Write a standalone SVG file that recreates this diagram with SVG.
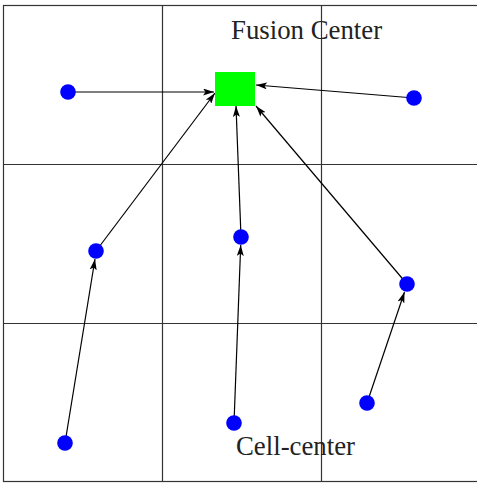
<svg xmlns="http://www.w3.org/2000/svg" width="477" height="483" viewBox="0 0 477 483">
<style>
.grid{stroke:#333;stroke-width:1.2;fill:none}
.node{fill:#0000ff}
.edge{stroke:#000;stroke-width:1.2;fill:none;marker-end:url(#ah)}
.lbl{font-family:"Liberation Serif","Times New Roman",serif;font-size:26.8px;fill:#222}
</style>
<defs>
<marker id="ah" viewBox="0 0 11 7" refX="11" refY="3.5" markerWidth="11" markerHeight="7" markerUnits="userSpaceOnUse" orient="auto">
<path d="M0,0 L11,3.5 L0,7 L2.5,3.5 Z" fill="#000"/>
</marker>
</defs>
<rect x="3" y="5" width="477" height="477" fill="#fff"/>
<g id="grid">
<rect class="grid" x="3.5" y="5.5" width="477" height="476"/>
<line class="grid" x1="162.5" y1="5" x2="162.5" y2="482"/>
<line class="grid" x1="321.5" y1="5" x2="321.5" y2="482"/>
<line class="grid" x1="3" y1="164.5" x2="480" y2="164.5"/>
<line class="grid" x1="3" y1="323.5" x2="480" y2="323.5"/>
</g>
<g id="connectors">
<line class="edge" x1="68" y1="92" x2="214" y2="92"/>
<line class="edge" x1="414" y1="98" x2="256" y2="85"/>
<line class="edge" x1="96" y1="251" x2="215" y2="93"/>
<line class="edge" x1="241" y1="237" x2="236" y2="106"/>
<line class="edge" x1="407" y1="284" x2="256" y2="106"/>
<line class="edge" x1="65" y1="443" x2="95" y2="259"/>
<line class="edge" x1="234" y1="423" x2="240.7" y2="245"/>
<line class="edge" x1="367" y1="403" x2="404.5" y2="292"/>
</g>
<g id="fusion-center">
<rect x="215" y="72" width="40" height="34" fill="#00ff00"/>
<text class="lbl" x="231" y="39">Fusion Center</text>
</g>
<g id="n1"><circle class="node" cx="68" cy="92" r="7.8"/></g>
<g id="n2"><circle class="node" cx="414" cy="98" r="7.8"/></g>
<g id="n3"><circle class="node" cx="96" cy="251" r="7.8"/></g>
<g id="n4"><circle class="node" cx="241" cy="237" r="7.8"/></g>
<g id="n5"><circle class="node" cx="407" cy="284" r="7.8"/></g>
<g id="n6"><circle class="node" cx="65" cy="443" r="7.8"/></g>
<g id="n7"><circle class="node" cx="234" cy="423" r="7.8"/></g>
<g id="n8"><circle class="node" cx="367" cy="403" r="7.8"/></g>
<g id="cell-center-label"><text class="lbl" x="236" y="455">Cell-center</text></g>
</svg>
